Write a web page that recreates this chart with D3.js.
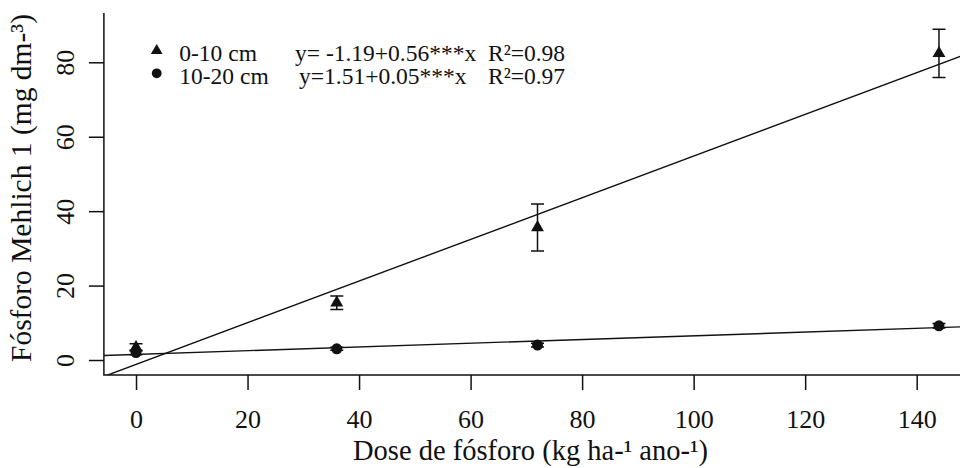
<!DOCTYPE html>
<html><head><meta charset="utf-8">
<script src="https://cdn.jsdelivr.net/npm/d3@7"></script>
<style>
html,body{margin:0;padding:0;background:#fff;}
svg{display:block;font-family:"Liberation Serif","DejaVu Serif",serif;}
</style></head>
<body>
<svg id="chart" width="960" height="468"></svg>
<script>
// ---- data ----
const doses = [0, 36, 72, 144];
const layer0_10 = [3.4, 15.4, 35.6, 82.4];
const err0_10 = [1.0, 1.8, 6.3, 6.5];
const layer10_20 = [2.0, 3.0, 4.0, 9.2];
const err10_20 = [0.6, 0.4, 0.5, 0.6];
const fitIntercepts = [-1.19, 1.51];
const fitSlopes = [0.56, 0.05];
const seriesLabels = ["0-10 cm", "10-20 cm"];
const equationLabels = ["y= -1.19+0.56***x", "y=1.51+0.05***x"];
const r2Labels = ["R²=0.98", "R²=0.97"];
const xTicks = [0, 20, 40, 60, 80, 100, 120, 140];
const yTicks = [0, 20, 40, 60, 80];
const xTitle = "Dose de fósforo (kg ha-¹ ano-¹)";
const yTitle = "Fósforo Mehlich 1 (mg dm-³)";

// ---- layout ----
const svg = d3.select("#chart");
const L = 103.9, R = 971.1, T = 13, B = 375;
const x = d3.scaleLinear().domain([-5.76, 149.76]).range([L, R]);
const y = d3.scaleLinear().domain([-4.03, 93.25]).range([B, T]);
const ink = "#111";

svg.append("defs").append("clipPath").attr("id", "plotclip")
  .append("rect").attr("x", L).attr("y", T).attr("width", R - L).attr("height", B - T);

// axes
const xAxis = svg.append("g").attr("transform", `translate(0,${B})`)
  .call(d3.axisBottom(x).tickValues(xTicks).tickSize(15).tickSizeOuter(0).tickPadding(12));
xAxis.select(".domain").remove();
xAxis.selectAll("line").attr("stroke", ink).attr("stroke-width", 1.5);
xAxis.selectAll("text").attr("font-size", 26).attr("fill", ink)
  .attr("font-family", "Liberation Serif").attr("dy", null).attr("y", 53);

const yAxis = svg.append("g").attr("transform", `translate(${L},0)`)
  .call(d3.axisLeft(y).tickValues(yTicks).tickSize(15).tickSizeOuter(0));
yAxis.select(".domain").remove();
yAxis.selectAll("line").attr("stroke", ink).attr("stroke-width", 1.5);
yAxis.selectAll("text").remove();
yAxis.selectAll(".tick").append("text")
  .attr("transform", `translate(${73.5 - L},0) rotate(-90)`)
  .attr("text-anchor", "middle").attr("font-size", 26).attr("fill", ink)
  .attr("font-family", "Liberation Serif")
  .text(d => d);

// L-shaped box
svg.append("path")
  .attr("d", `M${L},${T}V${B}H${R}`)
  .attr("fill", "none").attr("stroke", ink).attr("stroke-width", 1.5);

// axis titles
svg.append("text").attr("x", (L + R) / 2 - 7).attr("y", 460)
  .attr("text-anchor", "middle").attr("font-size", 28.5).attr("fill", ink).text(xTitle);
svg.append("text").attr("transform", `translate(31,${(T + B) / 2 - 6}) rotate(-90)`)
  .attr("text-anchor", "middle").attr("font-size", 29.5).attr("fill", ink).text(yTitle);

// fitted lines
const plot = svg.append("g").attr("clip-path", "url(#plotclip)");
const xd = x.domain();
fitIntercepts.forEach((a, i) => {
  const b = fitSlopes[i];
  plot.append("line")
    .attr("x1", x(xd[0])).attr("y1", y(a + b * xd[0]))
    .attr("x2", x(xd[1])).attr("y2", y(a + b * xd[1]))
    .attr("stroke", ink).attr("stroke-width", 1.4);
});

// data series
const tri = d3.symbol().type(d3.symbolTriangle).size(72);
const circ = d3.symbol().type(d3.symbolCircle).size(95);
const series = [
  {vals: layer0_10, errs: err0_10, sym: tri},
  {vals: layer10_20, errs: err10_20, sym: circ}
];
series.forEach(s => {
  const g = plot.append("g");
  doses.forEach((d, i) => {
    const cx = x(d), v = s.vals[i], e = s.errs[i];
    g.append("path")
      .attr("d", `M${cx},${y(v - e)}V${y(v + e)}M${cx - 6.5},${y(v + e)}h13M${cx - 6.5},${y(v - e)}h13`)
      .attr("stroke", ink).attr("stroke-width", 1.5).attr("fill", "none");
  });
  g.selectAll("path.pt").data(doses).join("path").attr("class", "pt")
    .attr("transform", (d, i) => `translate(${x(d)},${y(s.vals[i])})`)
    .attr("d", s.sym()).attr("fill", ink);
});

// legend
const legY = [50.7, 73.3];
const legBase = [60.5, 83.5];
const legSyms = [tri, circ];
seriesLabels.forEach((lab, i) => {
  svg.append("path").attr("transform", `translate(156.7,${legY[i]})`)
    .attr("d", legSyms[i].size(i === 0 ? 60 : 75)()).attr("fill", ink);
  svg.append("text").attr("x", 179.3).attr("y", legBase[i])
    .attr("font-size", 23.5).attr("fill", ink).text(lab);
  svg.append("text").attr("x", i === 0 ? 295 : 299).attr("y", legBase[i])
    .attr("font-size", 23.5).attr("fill", ink).text(equationLabels[i]);
  svg.append("text").attr("x", 488).attr("y", legBase[i])
    .attr("font-size", 23.5).attr("fill", ink).text(r2Labels[i]);
});
</script>
</body></html>
